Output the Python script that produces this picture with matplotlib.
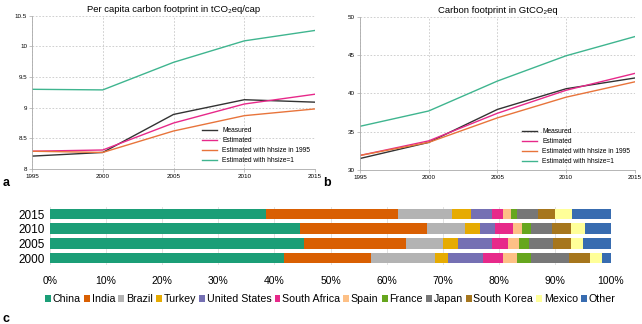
import numpy as np
import matplotlib.pyplot as plt
from matplotlib.ticker import PercentFormatter

plt.rcParams['font.family'] = ['Liberation Sans', 'DejaVu Sans']

# panels a/b: line series
years = [1995, 2000, 2005, 2010, 2015]
series_names = ['Measured', 'Estimated', 'Estimated with hhsize in 1995', 'Estimated with hhsize=1']
series_colors = ['#333333', '#e7298a', '#e8743b', '#3fb58f']

percap_measured = [8.21, 8.27, 8.89, 9.13, 9.09]
percap_estimated = [8.29, 8.31, 8.75, 9.06, 9.22]
percap_hh1995 = [8.29, 8.27, 8.62, 8.87, 8.98]
percap_hh1 = [9.30, 9.29, 9.74, 10.09, 10.26]

total_measured = [31.5, 33.6, 37.9, 40.6, 42.0]
total_estimated = [31.9, 33.8, 37.4, 40.4, 42.6]
total_hh1995 = [31.9, 33.6, 36.8, 39.5, 41.5]
total_hh1 = [35.7, 37.7, 41.6, 44.9, 47.4]

# panel c: shares (%) by country
bar_years = ['2000', '2005', '2010', '2015']
countries = ['China', 'India', 'Brazil', 'Turkey', 'United States', 'South Africa',
             'Spain', 'France', 'Japan', 'South Korea', 'Mexico', 'Other']
country_colors = ['#1b9e77', '#d95f02', '#b3b3b3', '#e6ab02', '#7570b3', '#e7298a',
                  '#fdc086', '#66a61e', '#777777', '#a6761d', '#ffff99', '#386cb0']
shares = {
    '2000': [41.7, 15.5, 11.4, 2.3, 6.3, 3.5, 2.5, 2.6, 6.7, 3.7, 2.2, 1.6],
    '2005': [45.2, 18.3, 6.5, 2.7, 6.0, 2.9, 2.0, 1.7, 4.3, 3.3, 2.1, 5.0],
    '2010': [44.6, 22.6, 6.7, 2.8, 2.7, 3.1, 1.7, 1.5, 3.8, 3.4, 2.4, 4.7],
    '2015': [38.5, 23.6, 9.6, 3.4, 3.7, 1.9, 1.4, 1.1, 3.7, 3.1, 3.1, 6.9],
}

fig = plt.figure(figsize=(6.42, 3.24), dpi=100)


def line_panel(ax, data, title, yticks, ylabels):
    for vals, name, col in zip(data, series_names, series_colors):
        ax.plot(years, vals, color=col, lw=1.0, label=name)
    ax.set_xlim(1995, 2015)
    ax.set_xticks(years)
    ax.set_ylim(yticks[0], yticks[-1])
    ax.set_yticks(yticks)
    ax.set_yticklabels(ylabels)
    ax.tick_params(labelsize=4.5, length=2, width=0.5, color='#aaaaaa', pad=1.5)
    ax.grid(True, ls=(0, (2, 2)), lw=0.6, color='#c8c8c8')
    ax.set_axisbelow(True)
    for s in ['top', 'right']:
        ax.spines[s].set_visible(False)
    for s in ['left', 'bottom']:
        ax.spines[s].set_color('#aaaaaa')
        ax.spines[s].set_linewidth(0.6)
    ax.set_title(title, fontsize=6.8, pad=3)
    ax.legend(loc='lower right', frameon=False, fontsize=4.8, handlelength=2.2,
              labelspacing=0.45, borderaxespad=0.3)


ax_a = fig.add_axes([0.0498, 0.4784, 0.441, 0.4731])
line_panel(ax_a, [percap_measured, percap_estimated, percap_hh1995, percap_hh1],
           'Per capita carbon footprint in tCO\u2082eq/cap',
           [8, 8.5, 9, 9.5, 10, 10.5], ['8', '8.5', '9', '9.5', '10', '10.5'])

ax_b = fig.add_axes([0.5607, 0.4753, 0.428, 0.4732])
line_panel(ax_b, [total_measured, total_estimated, total_hh1995, total_hh1],
           'Carbon footprint in GtCO\u2082eq',
           [30, 35, 40, 45, 50], ['30', '35', '40', '45', '50'])

# stacked bars
ax_c = fig.add_axes([0.0779, 0.181, 0.8738, 0.181])
ypos = np.arange(len(bar_years))
left = np.zeros(len(bar_years))
for i, (name, col) in enumerate(zip(countries, country_colors)):
    vals = np.array([shares[y][i] for y in bar_years])
    ax_c.barh(ypos, vals, left=left, height=0.72, color=col, label=name, zorder=2)
    left += vals
ax_c.set_xlim(0, 100)
ax_c.set_ylim(-0.5, 3.5)
ax_c.set_yticks(ypos)
ax_c.set_yticklabels(bar_years, fontsize=8.5)
ax_c.set_xticks(np.arange(0, 101, 10))
ax_c.xaxis.set_major_formatter(PercentFormatter(decimals=0))
ax_c.tick_params(axis='x', labelsize=7.5, length=0, pad=8)
ax_c.tick_params(axis='y', length=0, pad=4)
ax_c.grid(True, axis='x', color='#dddddd', lw=0.6, zorder=0)
for s in ['top', 'right', 'bottom', 'left']:
    ax_c.spines[s].set_visible(False)
ax_c.legend(loc='upper center', bbox_to_anchor=(0.5, -0.42), ncol=12, frameon=False,
            fontsize=7.7, handlelength=0.55, handleheight=0.55, handletextpad=0.15,
            columnspacing=0.3, borderaxespad=0)

fig.text(0.004, 0.425, 'a', fontsize=9, fontweight='bold')
fig.text(0.503, 0.425, 'b', fontsize=9, fontweight='bold')
fig.text(0.004, 0.005, 'c', fontsize=9, fontweight='bold')

fig.savefig('out.png', dpi=100)
